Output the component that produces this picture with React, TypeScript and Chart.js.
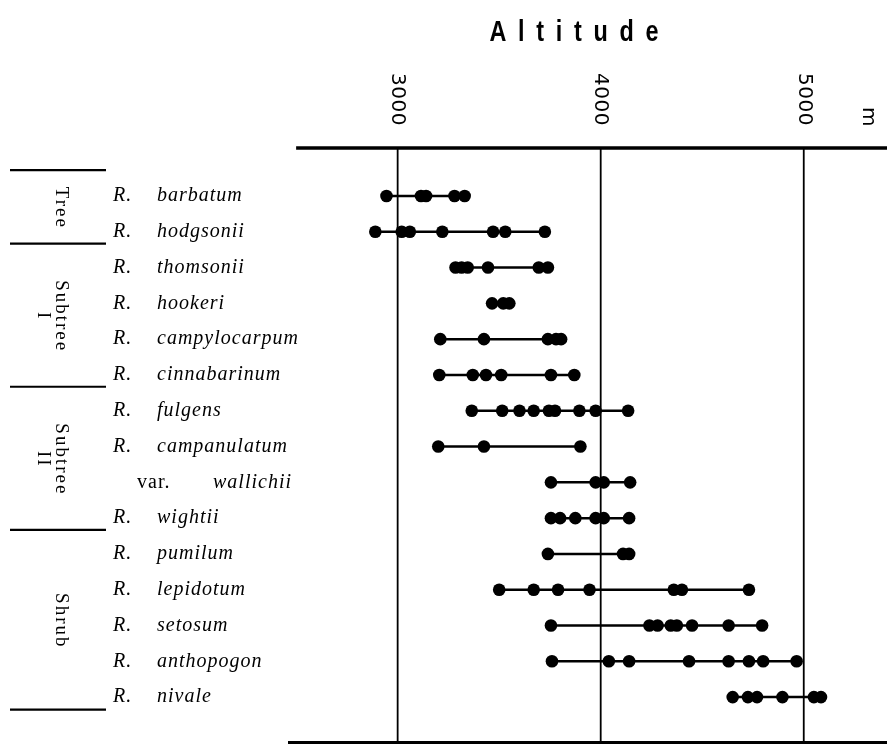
import React, { useEffect, useRef } from 'react';
import { Chart, registerables } from 'chart.js';

Chart.register(...registerables);

// ---- data ----
const speciesNames = [
  'barbatum', 'hodgsonii', 'thomsonii', 'hookeri', 'campylocarpum', 'cinnabarinum',
  'fulgens', 'campanulatum', 'wallichii', 'wightii', 'pumilum', 'lepidotum',
  'setosum', 'anthopogon', 'nivale',
];
const speciesPrefixes = ['R.', 'R.', 'R.', 'R.', 'R.', 'R.', 'R.', 'R.', 'var.', 'R.', 'R.', 'R.', 'R.', 'R.', 'R.'];

const barbatum = [2945, 3115, 3140, 3280, 3330];
const hodgsonii = [2890, 3020, 3060, 3220, 3470, 3530, 3725];
const thomsonii = [3285, 3315, 3345, 3445, 3695, 3740];
const hookeri = [3465, 3520, 3550];
const campylocarpum = [3210, 3425, 3740, 3780, 3805];
const cinnabarinum = [3205, 3370, 3435, 3510, 3755, 3870];
const fulgens = [3365, 3515, 3600, 3670, 3745, 3775, 3895, 3975, 4135];
const campanulatum = [3200, 3425, 3900];
const wallichii = [3755, 3975, 4015, 4145];
const wightii = [3755, 3800, 3875, 3975, 4015, 4140];
const pumilum = [3740, 4110, 4140];
const lepidotum = [3500, 3670, 3790, 3945, 4360, 4400, 4730];
const setosum = [3755, 4240, 4280, 4345, 4375, 4450, 4630, 4795];
const anthopogon = [3760, 4040, 4140, 4435, 4630, 4730, 4800, 4965];
const nivale = [4650, 4725, 4770, 4895, 5050, 5085];

const altitudeRows = [
  barbatum, hodgsonii, thomsonii, hookeri, campylocarpum, cinnabarinum, fulgens,
  campanulatum, wallichii, wightii, pumilum, lepidotum, setosum, anthopogon, nivale,
];

const tickValues = [3000, 4000, 5000];
const tickLabels = ['3000', '4000', '5000'];
const unitLabel = 'm';
const titleText = 'Altitude';

const groupLabels = [['Tree'], ['Subtree', 'I'], ['Subtree', 'II'], ['Shrub']];
const groupBounds = [-0.72, 1.33, 5.33, 9.33, 14.35];

const decorPlugin = {
  id: 'decor',
  beforeDatasetsDraw(chart: any) {
    const { ctx, chartArea, scales } = chart;
    const xs = scales.x;
    ctx.save();
    ctx.strokeStyle = '#000';
    // grid lines
    ctx.lineWidth = 1.8;
    tickValues.forEach((v) => {
      const px = xs.getPixelForValue(v);
      ctx.beginPath();
      ctx.moveTo(px, chartArea.top);
      ctx.lineTo(px, chartArea.bottom);
      ctx.stroke();
    });
    // top axis line
    ctx.lineWidth = 3.5;
    ctx.beginPath();
    ctx.moveTo(xs.getPixelForValue(2500), chartArea.top);
    ctx.lineTo(chartArea.right, chartArea.top);
    ctx.stroke();
    // bottom line
    ctx.lineWidth = 3;
    ctx.beginPath();
    ctx.moveTo(chartArea.left, chartArea.bottom - 1.5);
    ctx.lineTo(chartArea.right, chartArea.bottom - 1.5);
    ctx.stroke();
    ctx.restore();
  },
  afterDraw(chart: any) {
    const { ctx, scales } = chart;
    const xs = scales.x;
    const ys = scales.y;
    ctx.save();
    ctx.fillStyle = '#000';
    ctx.strokeStyle = '#000';

    // title
    ctx.save();
    ctx.font = 'bold 30px "Liberation Sans", Arial, sans-serif';
    (ctx as any).letterSpacing = '15px';
    ctx.textBaseline = 'middle';
    ctx.textAlign = 'left';
    const tw = ctx.measureText(titleText).width - 15;
    ctx.translate(574, 33);
    ctx.scale(0.78, 1);
    ctx.fillText(titleText, -tw / 2, 0);
    ctx.restore();

    // tick labels (rotated clockwise)
    ctx.save();
    ctx.font = '20px "DejaVu Sans", "Liberation Sans", sans-serif';
    (ctx as any).letterSpacing = '0.5px';
    ctx.textBaseline = 'middle';
    ctx.textAlign = 'right';
    tickValues.forEach((v, i) => {
      const px = xs.getPixelForValue(v);
      ctx.save();
      ctx.translate(px, 126);
      ctx.rotate(Math.PI / 2);
      ctx.fillText(tickLabels[i], 0, 0);
      ctx.restore();
    });
    ctx.save();
    ctx.translate(868, 127);
    ctx.rotate(Math.PI / 2);
    ctx.fillText(unitLabel, 0, 0);
    ctx.restore();
    ctx.restore();

    // group separators and labels
    ctx.lineWidth = 2.2;
    groupBounds.forEach((b) => {
      const py = ys.getPixelForValue(b);
      ctx.beginPath();
      ctx.moveTo(10, py);
      ctx.lineTo(106, py);
      ctx.stroke();
    });
    ctx.save();
    ctx.font = '19px "Liberation Serif", "Times New Roman", serif';
    (ctx as any).letterSpacing = '2px';
    ctx.textAlign = 'center';
    ctx.textBaseline = 'middle';
    groupLabels.forEach((lines, gi) => {
      const cy = ys.getPixelForValue((groupBounds[gi] + groupBounds[gi + 1]) / 2);
      lines.forEach((line, li) => {
        ctx.save();
        ctx.translate(61 - li * 18, cy + 1);
        ctx.rotate(Math.PI / 2);
        ctx.fillText(line, 0, 0);
        ctx.restore();
      });
    });
    ctx.restore();

    // species labels
    ctx.save();
    ctx.textBaseline = 'middle';
    ctx.textAlign = 'left';
    (ctx as any).letterSpacing = '1px';
    speciesNames.forEach((name, i) => {
      const py = ys.getPixelForValue(i);
      const pre = speciesPrefixes[i];
      if (pre === 'var.') {
        ctx.font = '20px "Liberation Serif", "Times New Roman", serif';
        ctx.fillText(pre, 137, py);
        ctx.font = 'italic 20px "Liberation Serif", "Times New Roman", serif';
        ctx.fillText(name, 213, py);
      } else {
        ctx.font = 'italic 20px "Liberation Serif", "Times New Roman", serif';
        ctx.fillText(pre, 113, py);
        ctx.fillText(name, 157, py);
      }
    });
    ctx.restore();

    ctx.restore();
  },
};

export default function App() {
  const canvasRef = useRef<HTMLCanvasElement | null>(null);

  useEffect(() => {
    document.body.style.margin = '0';
    const canvas = canvasRef.current;
    if (!canvas) return;
    const chart = new Chart(canvas, {
      type: 'scatter',
      data: {
        datasets: altitudeRows.map((vals, i) => ({
          label: speciesNames[i],
          data: vals.map((v) => ({ x: v, y: i })),
          showLine: true,
          borderColor: '#000',
          backgroundColor: '#000',
          borderWidth: 2.5,
          pointRadius: 6.3,
          pointHoverRadius: 6.3,
          pointBorderWidth: 0,
          pointBackgroundColor: '#000',
        })),
      },
      options: {
        responsive: false,
        animation: false,
        events: [],
        layout: { autoPadding: false, padding: { left: 288, right: 0, top: 148, bottom: 2 } },
        plugins: {
          legend: { display: false },
          tooltip: { enabled: false },
          title: { display: false },
        },
        scales: {
          x: { type: 'linear', min: 2460, max: 5410, display: false },
          y: { type: 'linear', min: -1.34, max: 15.31, reverse: true, display: false },
        },
      },
      plugins: [decorPlugin],
    });
    return () => chart.destroy();
  }, []);

  return (
    <div style={{ width: 887, height: 746, background: '#fff' }}>
      <canvas ref={canvasRef} width={887} height={746} style={{ display: 'block' }} />
    </div>
  );
}
